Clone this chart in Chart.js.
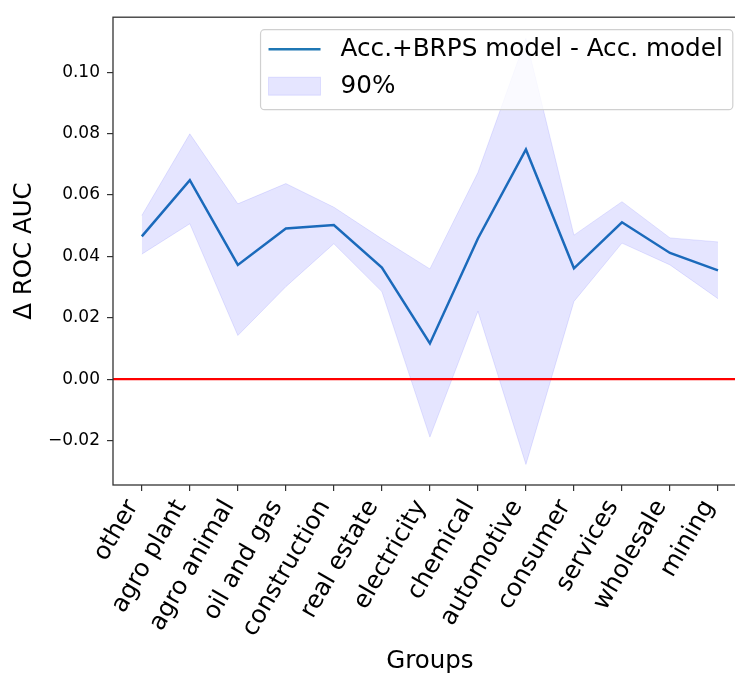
<!DOCTYPE html>
<html>
<head>
<meta charset="utf-8">
<script src="https://cdn.jsdelivr.net/npm/chart.js@4.4.1/dist/chart.umd.min.js"></script>
<style>
    html, body { margin: 0; padding: 0; background: #fff; overflow: hidden; }
    #wrap { position: absolute; left: 0; top: 0; width: 735px; height: 675px; overflow: hidden; }
    #grafico { position: absolute; left: 0; top: 0; }
</style>
</head>
<body>
<div id="wrap"><canvas id="grafico" width="760" height="675"></canvas></div>
<script>
// Datos
const GRUPOS = ["other", "agro plant", "agro animal", "oil and gas", "construction", "real estate",
    "electricity", "chemical", "automotive", "consumer", "services", "wholesale", "mining"];
const MEDIA = [0.0465, 0.0648, 0.0372, 0.0491, 0.0502, 0.0363, 0.0116, 0.0458, 0.0748, 0.0361, 0.0511, 0.0411, 0.0354];
const BANDA_SUP = [0.0533, 0.0799, 0.0571, 0.0637, 0.0560, 0.0457, 0.0359, 0.0673, 0.1110, 0.0469, 0.0578, 0.0460, 0.0447];
const BANDA_INF = [0.0407, 0.0506, 0.0142, 0.0301, 0.0441, 0.0285, -0.0189, 0.0221, -0.0278, 0.0253, 0.0443, 0.0372, 0.0262];
const Y_TICKS = [-0.02, 0.00, 0.02, 0.04, 0.06, 0.08, 0.10];
const LEYENDA = ["Acc.+BRPS model - Acc. model", "90%"];

const FUENTE = "'DejaVu Sans', sans-serif";
const COLOR_LINEA = "#1f77b4";
const COLOR_BANDA = "rgba(0, 0, 255, 0.1)";
const COLOR_EJE = "#333333";

/* línea roja en cero y marco de los ejes (los cuatro lados) */
const marco = {
    id: "marco",
    afterDatasetsDraw(chart) {
        const { ctx, chartArea: a, scales: { y } } = chart;
        ctx.save();
        const y0 = y.getPixelForValue(0);
        ctx.strokeStyle = "#ff0000";
        ctx.lineWidth = 2.2;
        ctx.beginPath();
        ctx.moveTo(a.left, y0);
        ctx.lineTo(a.right, y0);
        ctx.stroke();

        ctx.strokeStyle = COLOR_EJE;
        ctx.lineWidth = 1.3;
        ctx.strokeRect(a.left, a.top, a.right - a.left, a.bottom - a.top);
        ctx.restore();
    }
};

/* leyenda dibujada dentro del área, arriba a la derecha */
const leyenda = {
    id: "leyenda",
    afterDraw(chart) {
        const { ctx, chartArea: a } = chart;
        ctx.save();
        ctx.font = "24.7px " + FUENTE;
        const anchoTexto = Math.max(...LEYENDA.map(t => ctx.measureText(t).width));
        const w = 8 + 52 + 20 + anchoTexto + 10;
        const h = 80;
        const x = a.right - 14 - w;
        const y = a.top + 12.5;

        ctx.fillStyle = "rgba(255,255,255,0.8)";
        ctx.strokeStyle = "#d0d0d0";
        ctx.lineWidth = 1.2;
        ctx.beginPath();
        ctx.roundRect(x, y, w, h, 4);
        ctx.fill();
        ctx.stroke();

        // muestra de línea
        ctx.strokeStyle = COLOR_LINEA;
        ctx.lineWidth = 2.5;
        ctx.beginPath();
        ctx.moveTo(x + 8, y + 19.5);
        ctx.lineTo(x + 60, y + 19.5);
        ctx.stroke();

        // muestra de banda
        ctx.fillStyle = COLOR_BANDA;
        ctx.fillRect(x + 8, y + 47.5, 52, 18);
        ctx.strokeStyle = COLOR_BANDA;
        ctx.lineWidth = 1;
        ctx.strokeRect(x + 8, y + 47.5, 52, 18);

        ctx.fillStyle = "#000";
        ctx.textBaseline = "middle";
        ctx.fillText(LEYENDA[0], x + 80, y + 20);
        ctx.fillText(LEYENDA[1], x + 80, y + 57);
        ctx.restore();
    }
};

const ctx = document.getElementById("grafico").getContext("2d");

new Chart(ctx, {
    type: "line",
    data: {
        datasets: [
            {
                label: "inf",
                data: BANDA_INF.map((v, i) => ({ x: i, y: v })),
                borderColor: COLOR_BANDA,
                borderWidth: 1,
                pointRadius: 0,
                fill: false
            },
            {
                label: LEYENDA[1],
                data: BANDA_SUP.map((v, i) => ({ x: i, y: v })),
                borderColor: COLOR_BANDA,
                backgroundColor: COLOR_BANDA,
                borderWidth: 1,
                pointRadius: 0,
                fill: "-1"
            },
            {
                label: LEYENDA[0],
                data: MEDIA.map((v, i) => ({ x: i, y: v })),
                borderColor: COLOR_LINEA,
                borderWidth: 2.5,
                pointRadius: 0,
                fill: false
            }
        ]
    },
    options: {
        responsive: false,
        animation: false,
        layout: { padding: { top: 13.5, right: 13.2, left: 0, bottom: 0 } },
        plugins: { legend: { display: false }, tooltip: { enabled: false } },
        scales: {
            x: {
                type: "linear",
                min: -0.6,
                max: GRUPOS.length - 1 + 0.6,
                afterBuildTicks: s => { s.ticks = GRUPOS.map((g, i) => ({ value: i })); },
                afterFit: s => { s.height = 190; },
                ticks: {
                    autoSkip: false,
                    minRotation: 60,
                    maxRotation: 60,
                    padding: 4,
                    labelOffset: -9,
                    color: "#000",
                    font: { family: FUENTE, size: 24.5 },
                    callback: v => GRUPOS[v]
                },
                grid: { drawOnChartArea: false, tickLength: 6, color: COLOR_EJE, lineWidth: 1.2 },
                border: { display: false },
                title: {
                    display: true,
                    text: "Groups",
                    color: "#000",
                    font: { family: FUENTE, size: 24.5, lineHeight: 1.1 },
                    padding: { top: 0, bottom: 0 }
                }
            },
            y: {
                min: -0.0345,
                max: 0.1179,
                afterBuildTicks: s => { s.ticks = Y_TICKS.map(v => ({ value: v })); },
                afterFit: s => { s.width = 113; },
                ticks: {
                    padding: 7,
                    color: "#000",
                    font: { family: FUENTE, size: 17 },
                    callback: v => (v < -1e-9 ? "\u2212" : "") + Math.abs(v).toFixed(2)
                },
                grid: { drawOnChartArea: false, tickLength: 6, color: COLOR_EJE, lineWidth: 1.2 },
                border: { display: false },
                title: {
                    display: true,
                    text: "\u0394 ROC AUC",
                    color: "#000",
                    font: { family: FUENTE, size: 24.5, lineHeight: 1.1 },
                    padding: { top: 11.2, bottom: 0 }
                }
            }
        }
    },
    plugins: [marco, leyenda]
});
</script>
</body>
</html>
